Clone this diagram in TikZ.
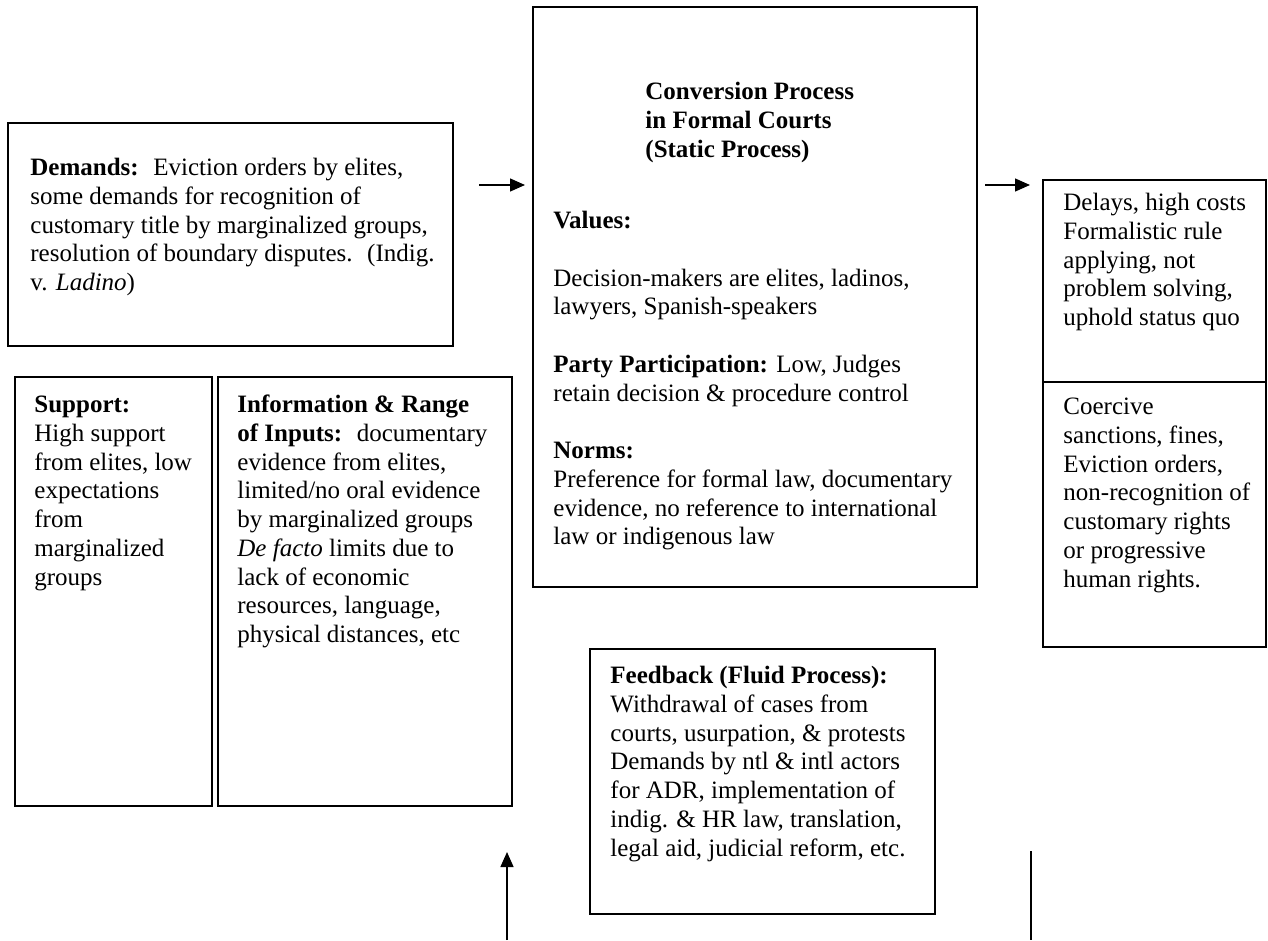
\documentclass[tikz,border=0pt]{standalone}
\usepackage{fontspec}
\setmainfont{Liberation Serif}
\usetikzlibrary{arrows.meta,fit}
\begin{document}
\begin{tikzpicture}[x=0.48pt,y=-0.48pt,
  frame/.style={draw, line width=1.1pt, inner sep=0pt},
  txt/.style={anchor=north west, align=left, inner sep=0pt,
    font=\fontsize{12}{13.8}\selectfont},
  flow/.style={line width=0.8pt, -{Triangle[length=7.2pt,width=6.2pt]}},
  bare/.style={line width=0.8pt}]
\useasboundingbox (0,0) rectangle (1268,940);

% boxes
\node[frame, fit={(8,123) (453,346)}] (demands) {};
\node[frame, fit={(533,7) (977,587)}] (conversion) {};
\node[frame, fit={(1043,180) (1266,382)}] (outTop) {};
\node[frame, fit={(1043,382) (1266,647)}] (outBottom) {};
\node[frame, fit={(15,377) (212,806)}] (support) {};
\node[frame, fit={(218,377) (512,806)}] (info) {};
\node[frame, fit={(590,649) (935,914)}] (feedback) {};

% texts (each node top sits one strut height above the first baseline)
\node[txt] (demandsText) at (30,155) {\strut\textbf{Demands:}~ Eviction orders by elites,\\
some demands for recognition of\\
customary title by marginalized groups,\\
resolution of boundary disputes.~ (Indig.\\
v. \textit{Ladino})};

\node[txt] (convTitle) at (645,79) {\strut\textbf{Conversion Process}\\
\textbf{in Formal Courts}\\
\textbf{(Static Process)}};

\node[txt] (convBody) at (553,208) {\strut\textbf{Values:}\\[13.8pt]
Decision-makers are elites, ladinos,\\
lawyers, Spanish-speakers\\[13.8pt]
\textbf{Party Participation:} Low, Judges\\
retain decision \& procedure control\\[13.8pt]
\textbf{Norms:}\\
Preference for formal law, documentary\\
evidence, no reference to international\\
law or indigenous law};

\node[txt] (outTopText) at (1063,190) {\strut Delays, high costs\\
Formalistic rule\\
applying, not\\
problem solving,\\
uphold status quo};

\node[txt] (outBottomText) at (1063,394) {\strut Coercive\\
sanctions, fines,\\
Eviction orders,\\
non-recognition of\\
customary rights\\
or progressive\\
human rights.};

\node[txt] (supportText) at (34,392) {\strut\textbf{Support:}\\
High support\\
from elites, low\\
expectations\\
from\\
marginalized\\
groups};

\node[txt] (infoText) at (237,392) {\strut\textbf{Information \& Range}\\
\textbf{of Inputs:}~ documentary\\
evidence from elites,\\
limited/no oral evidence\\
by marginalized groups\\
\textit{De facto} limits due to\\
lack of economic\\
resources, language,\\
physical distances, etc};

\node[txt] (feedbackText) at (610,663) {\strut\textbf{Feedback (Fluid Process):}\\
Withdrawal of cases from\\
courts, usurpation, \& protests\\
Demands by ntl \& intl actors\\
for ADR, implementation of\\
indig. \& HR law, translation,\\
legal aid, judicial reform, etc.};

% connectors
\coordinate (inStart) at (479,185);
\coordinate (inEnd) at (525,185);
\coordinate (outStart) at (985,185);
\coordinate (outEnd) at (1030,185);
\coordinate (fbStart) at (507,940);
\coordinate (fbEnd) at (507,852);
\coordinate (retTop) at (1031,851);
\coordinate (retBottom) at (1031,940);

\draw[flow] (inStart) -- (inEnd);
\draw[flow] (outStart) -- (outEnd);
\draw[flow] (fbStart) -- (fbEnd);
\draw[bare] (retTop) -- (retBottom);
\end{tikzpicture}
\end{document}
